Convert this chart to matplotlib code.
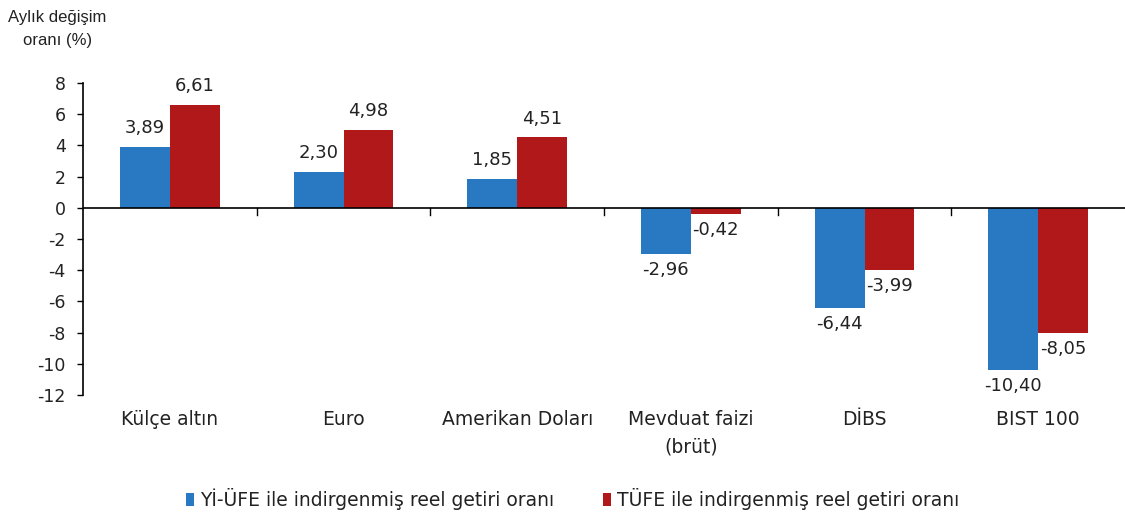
import matplotlib
matplotlib.use("Agg")
import matplotlib.pyplot as plt
import numpy as np

categories = ["Külçe altın", "Euro", "Amerikan Doları", "Mevduat faizi\n(brüt)", "DİBS", "BIST 100"]
yi_ufe = [3.89, 2.30, 1.85, -2.96, -6.44, -10.40]
tufe = [6.61, 4.98, 4.51, -0.42, -3.99, -8.05]
series_names = ["Yİ-ÜFE ile indirgenmiş reel getiri oranı", "TÜFE ile indirgenmiş reel getiri oranı"]
yticks = [8, 6, 4, 2, 0, -2, -4, -6, -8, -10, -12]

plt.rcParams['font.family'] = ['DejaVu Sans']

blue = "#2878C2"
red = "#B0181A"
txt = "#222222"

fig = plt.figure(figsize=(11.25, 5.21), dpi=100)
ax = fig.add_axes([83/1125, 1 - 395/521, 1 - 83/1125, (395 - 83)/521])

x = np.arange(len(categories))
w = 0.287
b1 = ax.bar(x - w/2, yi_ufe, w, color=blue, label=series_names[0])
b2 = ax.bar(x + w/2, tufe, w, color=red, label=series_names[1])

def fmt(v):
    return f"{v:.2f}".replace(".", ",")

for bars, vals in ((b1, yi_ufe), (b2, tufe)):
    for rect, v in zip(bars, vals):
        cx = rect.get_x() + rect.get_width()/2
        if v >= 0:
            ax.annotate(fmt(v), (cx, v), xytext=(0, 7), textcoords="offset points",
                        ha="center", va="bottom", fontsize=13, color=txt)
        else:
            ax.annotate(fmt(v), (cx, v), xytext=(0, -5), textcoords="offset points",
                        ha="center", va="top", fontsize=13, color=txt)

ax.set_xlim(-0.5, len(categories) - 0.5)
ax.set_ylim(-12, 8)
ax.set_yticks(yticks)
ax.set_yticklabels([str(t) for t in yticks], fontsize=12.5, color=txt)
ax.tick_params(axis='y', direction='out', length=4.5, width=1, pad=8, colors="black",
               labelcolor=txt)

for s in ("top", "right", "bottom"):
    ax.spines[s].set_visible(False)
ax.spines["left"].set_linewidth(1.2)
ax.axhline(0, color="black", linewidth=1.2, zorder=3)

# category boundary ticks on the zero line
ax.set_xticks([])
for b in np.arange(0.5, len(categories) - 0.5, 1.0):
    ax.plot([b, b], [0, -0.45], color="black", linewidth=1, clip_on=False, zorder=3)

for i, c in enumerate(categories):
    ax.text(i, -12.95, c, ha="center", va="top", fontsize=13.5, color=txt,
            linespacing=1.55)

fig.text(8/1125, 1 - 10/521, "Aylık değişim\noranı (%)", ha="left", va="top",
         fontsize=12, color=txt, multialignment="center", linespacing=1.65,
         family=['Liberation Sans', 'DejaVu Sans'])

leg = fig.legend(handles=[b1, b2], labels=series_names, loc="center",
                 bbox_to_anchor=(573/1125, 1 - 499/521), ncol=2, frameon=False,
                 fontsize=13.5, handlelength=0.4, handleheight=0.7, handletextpad=0.35,
                 columnspacing=2.6, labelcolor=txt)

fig.savefig("out.png", dpi=100)
